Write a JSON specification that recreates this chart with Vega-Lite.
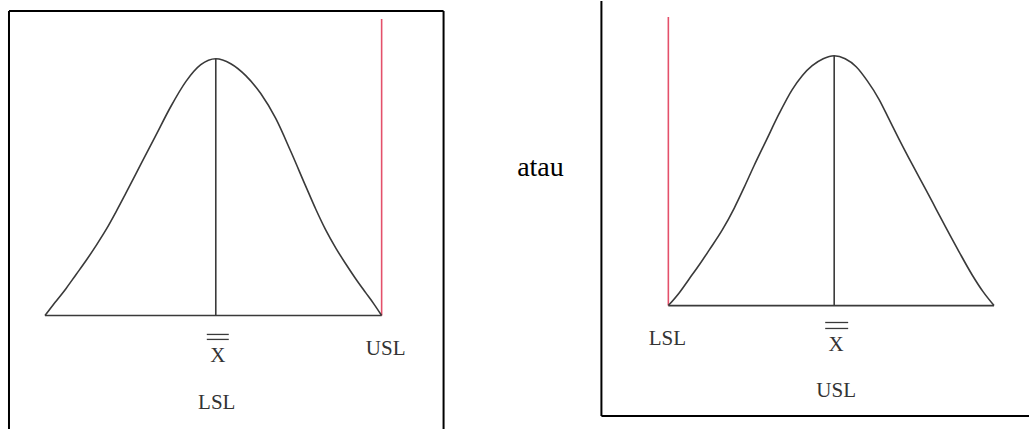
{
  "$schema": "https://vega.github.io/schema/vega-lite/v6.json",
  "width": 1030,
  "height": 430,
  "autosize": {"type": "fit", "contains": "padding"},
  "padding": 0,
  "background": "white",
  "config": {"view": {"stroke": null}},
  "datasets": {
    "curves": [
      {"panel": "kiri", "x": 45, "y": 316}, {"panel": "kiri", "x": 55, "y": 303}, {"panel": "kiri", "x": 66, "y": 289},
      {"panel": "kiri", "x": 76, "y": 275}, {"panel": "kiri", "x": 86, "y": 261}, {"panel": "kiri", "x": 96, "y": 246},
      {"panel": "kiri", "x": 106, "y": 230}, {"panel": "kiri", "x": 116, "y": 212}, {"panel": "kiri", "x": 126, "y": 193},
      {"panel": "kiri", "x": 141, "y": 164}, {"panel": "kiri", "x": 156, "y": 135}, {"panel": "kiri", "x": 171, "y": 106},
      {"panel": "kiri", "x": 186, "y": 81}, {"panel": "kiri", "x": 201, "y": 64}, {"panel": "kiri", "x": 216, "y": 58},
      {"panel": "kiri", "x": 231, "y": 63}, {"panel": "kiri", "x": 246, "y": 75}, {"panel": "kiri", "x": 261, "y": 93},
      {"panel": "kiri", "x": 276, "y": 118}, {"panel": "kiri", "x": 291, "y": 151}, {"panel": "kiri", "x": 306, "y": 186},
      {"panel": "kiri", "x": 316, "y": 209}, {"panel": "kiri", "x": 326, "y": 230}, {"panel": "kiri", "x": 336, "y": 248},
      {"panel": "kiri", "x": 346, "y": 264}, {"panel": "kiri", "x": 356, "y": 279}, {"panel": "kiri", "x": 366, "y": 293},
      {"panel": "kiri", "x": 374, "y": 304}, {"panel": "kiri", "x": 382, "y": 316},
      {"panel": "kanan", "x": 669, "y": 306}, {"panel": "kanan", "x": 680, "y": 293}, {"panel": "kanan", "x": 690, "y": 279},
      {"panel": "kanan", "x": 700, "y": 265}, {"panel": "kanan", "x": 710, "y": 250}, {"panel": "kanan", "x": 723, "y": 230},
      {"panel": "kanan", "x": 735, "y": 208}, {"panel": "kanan", "x": 745, "y": 187}, {"panel": "kanan", "x": 755, "y": 165},
      {"panel": "kanan", "x": 767, "y": 140}, {"panel": "kanan", "x": 780, "y": 113}, {"panel": "kanan", "x": 793, "y": 89},
      {"panel": "kanan", "x": 803, "y": 75}, {"panel": "kanan", "x": 813, "y": 65}, {"panel": "kanan", "x": 824, "y": 58},
      {"panel": "kanan", "x": 835, "y": 55}, {"panel": "kanan", "x": 846, "y": 58}, {"panel": "kanan", "x": 857, "y": 66},
      {"panel": "kanan", "x": 868, "y": 80}, {"panel": "kanan", "x": 880, "y": 99}, {"panel": "kanan", "x": 890, "y": 119},
      {"panel": "kanan", "x": 900, "y": 139}, {"panel": "kanan", "x": 913, "y": 164}, {"panel": "kanan", "x": 927, "y": 190},
      {"panel": "kanan", "x": 937, "y": 209}, {"panel": "kanan", "x": 947, "y": 228}, {"panel": "kanan", "x": 960, "y": 252},
      {"panel": "kanan", "x": 973, "y": 275}, {"panel": "kanan", "x": 984, "y": 292}, {"panel": "kanan", "x": 995, "y": 306}
    ],
    "segments": [
      {"kind": "border", "x": 9, "y": 10, "x2": 444, "y2": 10},
      {"kind": "border", "x": 9, "y": 10, "x2": 9, "y2": 430},
      {"kind": "border", "x": 444, "y": 10, "x2": 444, "y2": 430},
      {"kind": "border", "x": 602, "y": 0, "x2": 602, "y2": 417},
      {"kind": "border", "x": 602, "y": 417, "x2": 1030, "y2": 417},
      {"kind": "line", "x": 45, "y": 316, "x2": 382, "y2": 316},
      {"kind": "line", "x": 216, "y": 58, "x2": 216, "y2": 316},
      {"kind": "line", "x": 669, "y": 306, "x2": 995, "y2": 306},
      {"kind": "line", "x": 835, "y": 55, "x2": 835, "y2": 306},
      {"kind": "spec", "x": 382, "y": 18, "x2": 382, "y2": 316},
      {"kind": "spec", "x": 669, "y": 16, "x2": 669, "y2": 306},
      {"kind": "bar", "x": 207, "y": 335, "x2": 229, "y2": 335},
      {"kind": "bar", "x": 207, "y": 340, "x2": 229, "y2": 340},
      {"kind": "bar", "x": 826, "y": 323, "x2": 849, "y2": 323},
      {"kind": "bar", "x": 826, "y": 329, "x2": 849, "y2": 329}
    ],
    "labels": [
      {"kind": "label", "text": "X", "x": 218, "y": 357},
      {"kind": "label", "text": "USL", "x": 386, "y": 350},
      {"kind": "label", "text": "LSL", "x": 217, "y": 404},
      {"kind": "label", "text": "LSL", "x": 668, "y": 340},
      {"kind": "label", "text": "X", "x": 837, "y": 346},
      {"kind": "label", "text": "USL", "x": 837, "y": 392},
      {"kind": "word", "text": "atau", "x": 541, "y": 168}
    ]
  },
  "layer": [
    {
      "data": {"name": "segments"},
      "transform": [{"filter": "datum.kind === 'border'"}],
      "mark": {"type": "rule", "color": "#000000", "strokeWidth": 2},
      "encoding": {
        "x": {"field": "x", "type": "quantitative", "scale": {"domain": [0, 1030], "nice": false, "zero": false}, "axis": null},
        "y": {"field": "y", "type": "quantitative", "scale": {"domain": [0, 430], "nice": false, "zero": false, "reverse": true}, "axis": null},
        "x2": {"field": "x2"},
        "y2": {"field": "y2"}
      }
    },
    {
      "data": {"name": "segments"},
      "transform": [{"filter": "datum.kind === 'line'"}],
      "mark": {"type": "rule", "color": "#3a3a3a", "strokeWidth": 1.6},
      "encoding": {
        "x": {"field": "x", "type": "quantitative", "scale": {"domain": [0, 1030], "nice": false, "zero": false}, "axis": null},
        "y": {"field": "y", "type": "quantitative", "scale": {"domain": [0, 430], "nice": false, "zero": false, "reverse": true}, "axis": null},
        "x2": {"field": "x2"},
        "y2": {"field": "y2"}
      }
    },
    {
      "data": {"name": "segments"},
      "transform": [{"filter": "datum.kind === 'spec'"}],
      "mark": {"type": "rule", "color": "#e4506a", "strokeWidth": 1.6},
      "encoding": {
        "x": {"field": "x", "type": "quantitative", "scale": {"domain": [0, 1030], "nice": false, "zero": false}, "axis": null},
        "y": {"field": "y", "type": "quantitative", "scale": {"domain": [0, 430], "nice": false, "zero": false, "reverse": true}, "axis": null},
        "x2": {"field": "x2"},
        "y2": {"field": "y2"}
      }
    },
    {
      "data": {"name": "segments"},
      "transform": [{"filter": "datum.kind === 'bar'"}],
      "mark": {"type": "rule", "color": "#3a3a3a", "strokeWidth": 1.3},
      "encoding": {
        "x": {"field": "x", "type": "quantitative", "scale": {"domain": [0, 1030], "nice": false, "zero": false}, "axis": null},
        "y": {"field": "y", "type": "quantitative", "scale": {"domain": [0, 430], "nice": false, "zero": false, "reverse": true}, "axis": null},
        "x2": {"field": "x2"},
        "y2": {"field": "y2"}
      }
    },
    {
      "data": {"name": "curves"},
      "mark": {"type": "line", "color": "#3a3a3a", "strokeWidth": 1.6, "interpolate": "monotone"},
      "encoding": {
        "x": {"field": "x", "type": "quantitative", "scale": {"domain": [0, 1030], "nice": false, "zero": false}, "axis": null},
        "y": {"field": "y", "type": "quantitative", "scale": {"domain": [0, 430], "nice": false, "zero": false, "reverse": true}, "axis": null},
        "detail": {"field": "panel"},
        "order": {"field": "x", "type": "quantitative"}
      }
    },
    {
      "data": {"name": "labels"},
      "transform": [{"filter": "datum.kind === 'label'"}],
      "mark": {"type": "text", "font": "Liberation Serif", "fontSize": 21, "color": "#333333", "baseline": "middle", "align": "center"},
      "encoding": {
        "x": {"field": "x", "type": "quantitative", "scale": {"domain": [0, 1030], "nice": false, "zero": false}, "axis": null},
        "y": {"field": "y", "type": "quantitative", "scale": {"domain": [0, 430], "nice": false, "zero": false, "reverse": true}, "axis": null},
        "text": {"field": "text"}
      }
    },
    {
      "data": {"name": "labels"},
      "transform": [{"filter": "datum.kind === 'word'"}],
      "mark": {"type": "text", "font": "Times New Roman, Liberation Serif, serif", "fontSize": 28, "color": "#000000", "baseline": "middle", "align": "center"},
      "encoding": {
        "x": {"field": "x", "type": "quantitative", "scale": {"domain": [0, 1030], "nice": false, "zero": false}, "axis": null},
        "y": {"field": "y", "type": "quantitative", "scale": {"domain": [0, 430], "nice": false, "zero": false, "reverse": true}, "axis": null},
        "text": {"field": "text"}
      }
    }
  ]
}
